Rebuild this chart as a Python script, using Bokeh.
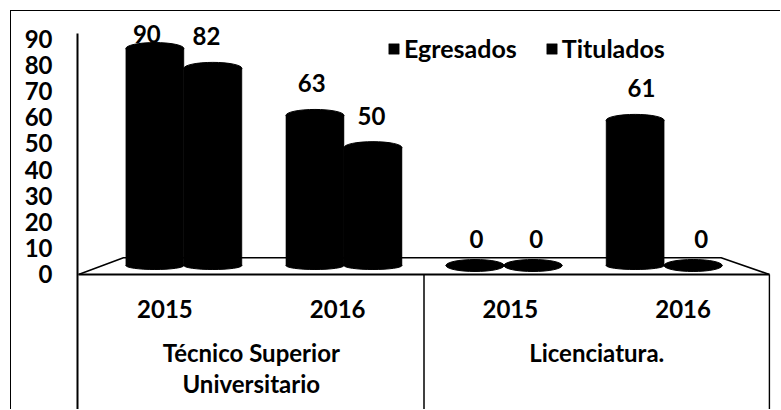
import numpy as np
from bokeh.plotting import figure
from bokeh.models import (FactorRange, Range1d, FixedTicker, ColumnDataSource,
                          Legend, LegendItem)
from bokeh.core.properties import value
from bokeh.embed import file_html
from bokeh.resources import INLINE

# ---------------- data ----------------
groups = ["Técnico Superior\nUniversitario", "Licenciatura."]
years = ["2015", "2016"]
series = ["Egresados", "Titulados"]
egresados = [90, 63, 0, 61]   # per (group, year)
titulados = [82, 50, 0, 0]
y_ticks = [0, 10, 20, 30, 40, 50, 60, 70, 80, 90]

# ---------------- style ----------------
FONT = "Lato"
FS = "24px"
W, H = 770, 399
CAP_PX = 12      # cylinder top cap height (px)
BASE_PX = 8      # cylinder base ellipse height (px)
LABEL_CLAMP = 83  # value labels cannot go higher than this (back plane)

cats = [(g, y) for g in groups for y in years]

# front plane (axis / category labels)
Y0, Y1 = -51.87, 100.3
front_x = FactorRange(*cats, factor_padding=0, group_padding=0,
                      range_padding=0.006, range_padding_units="absolute")
front_y = Range1d(Y0, Y1)

p = figure(width=W, height=H, x_range=front_x, y_range=front_y,
           output_backend="svg", toolbar_location=None, title=None,
           x_axis_location=None, min_border_left=66, min_border_right=11,
           min_border_top=0, min_border_bottom=0)
p.outline_line_color = None
p.xgrid.visible = False
p.ygrid.visible = False
p.background_fill_color = "white"
p.border_fill_color = "white"
p.styles = {"margin-left": "10px", "margin-top": "10px",
            "border-top": "1px solid #000", "border-left": "1px solid #000"}

# back plane (3D bars) and label plane
back_factors = [(g, y, s) for g in groups for y in years for s in series]
p.extra_x_ranges = {
    "back": FactorRange(*back_factors, factor_padding=0, subgroup_padding=0.76,
                        group_padding=0.76, range_padding=0.834,
                        range_padding_units="absolute"),
    "lab": FactorRange(*back_factors, factor_padding=0, subgroup_padding=0.76,
                       group_padding=0.76, range_padding=0.66,
                       range_padding_units="absolute"),
}
B0, B1 = -58.54, 102.54
p.extra_y_ranges = {"back": Range1d(B0, B1)}
back_scale = H / (B1 - B0)  # px per unit on back plane

# y axis
ax = p.yaxis[0]
ax.ticker = FixedTicker(ticks=y_ticks)
ax.bounds = (Y0, 91.9)
ax.major_tick_out = 0
ax.major_tick_in = 0
ax.minor_tick_out = 0
ax.minor_tick_in = 0
ax.axis_line_color = "black"
ax.axis_line_width = 2
ax.major_label_standoff = 25
ax.major_label_text_font = FONT
ax.major_label_text_font_style = "bold"
ax.major_label_text_font_size = FS
ax.major_label_text_color = "black"

# floor (3D base) and category separators, front plane synthetic coords
p.line(x=[0, 4], y=[0, 0], line_color="black", line_width=2)
p.line(x=[0, 0.26, 3.72, 4], y=[0, 6.4, 6.4, 0], line_color="black", line_width=1.5)
p.segment(x0=[2, 4], y0=[0, 0], x1=[2, 4], y1=[Y0, Y0],
          line_color="black", line_width=1.5)

# bars (cylinders)
cap_half = CAP_PX / 2 / back_scale
renderers = []
for s, vals in zip(series, [egresados, titulados]):
    v = np.array(vals, dtype=float)
    src = ColumnDataSource(dict(
        x=[(g, y, s) for (g, y) in cats],
        v=v,
        body_top=np.maximum(v - cap_half, 0),
        lab_y=np.minimum(v, LABEL_CLAMP),
        label=[str(int(a)) for a in vals],
    ))
    r = p.vbar(x="x", top="body_top", bottom=0, width=1.0, source=src,
               x_range_name="back", y_range_name="back",
               fill_color="black", line_color="black", line_width=0.5)
    p.ellipse(x="x", y=0, width=1.0, height=BASE_PX, height_units="screen",
              source=src, x_range_name="back", y_range_name="back",
              fill_color="black", line_color="black")
    p.ellipse(x="x", y="body_top", width=1.0, height=CAP_PX, height_units="screen",
              source=src, x_range_name="back", y_range_name="back",
              fill_color="black", line_color="black")
    p.text(x="x", y="lab_y", text="label", source=src,
           x_range_name="lab", y_range_name="back", y_offset=-26,
           text_font=value(FONT), text_font_style="bold", text_font_size=FS,
           text_align="center", text_baseline="middle", text_color="black")
    renderers.append(r)

# category labels
p.text(x=cats, y=[-13.1] * len(cats), text=[y for (g, y) in cats],
       text_font=value(FONT), text_font_style="bold", text_font_size=FS,
       text_align="center", text_baseline="middle", text_color="black")
p.text(x=groups, y=[-24.3] * len(groups), text=groups,
       text_font=value(FONT), text_font_style="bold", text_font_size=FS,
       text_align="center", text_baseline="top", text_color="black",
       text_line_height=1.05)

legend = Legend(items=[LegendItem(label=s, renderers=[r]) for s, r in zip(series, renderers)],
                orientation="horizontal", location=(310, 347),
                glyph_width=13, glyph_height=13, label_height=13,
                label_standoff=4, spacing=28, padding=0, margin=0,
                border_line_color=None, background_fill_alpha=0,
                label_text_font=FONT, label_text_font_style="bold",
                label_text_font_size="25px", label_text_color="black",
                label_text_baseline="middle")
p.add_layout(legend)

open("out.html", "w").write(file_html(p, INLINE))
